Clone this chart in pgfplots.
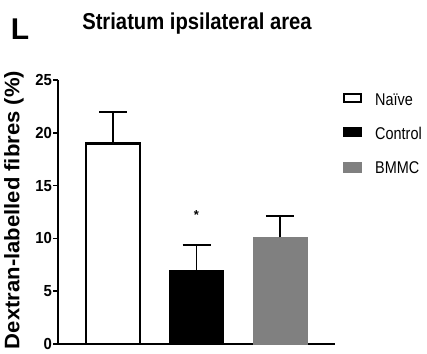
\documentclass[border=0pt]{standalone}
\usepackage{pgfplots}
\pgfplotsset{compat=1.18}
\usepackage{fontspec}
\setmainfont{Liberation Sans}
\newfontfamily\nfont[FakeStretch=0.88]{Liberation Sans}
\newfontfamily\lfont[FakeStretch=0.85]{Liberation Sans}
\newfontfamily\tfont[FakeStretch=0.93]{Liberation Sans}
\newfontfamily\yfont[FakeStretch=1.05]{Liberation Sans}
\begin{document}
\begin{tikzpicture}
\path (0pt,0pt) rectangle (427pt,353pt);
\begin{axis}[
  at={(58pt,9pt)}, anchor=south west,
  scale only axis, width=277pt, height=264pt,
  xmin=-0.66, xmax=2.66, ymin=0, ymax=25,
  axis lines*=left,
  axis line style={line width=1.8pt},
  every tick/.style={line width=1.6pt, black},
  ytick={0,5,10,15,20,25},
  tick align=outside, major tick length=5pt,
  xtick=\empty,
  /pgf/number format/assume math mode=true,
  yticklabel style={font=\tfont\bfseries\fontsize{16}{16}\selectfont, inner sep=1pt},
  clip=false,
]
\addplot[ybar, bar width=54pt, fill=white, draw=black, line width=2.4pt,
  error bars/.cd, y dir=plus, y explicit, error bar style={line width=1.8pt}, error mark options={rotate=90, mark size=14pt, line width=1.8pt}]
  coordinates {(0,19.0) +- (0,3.0)};
\addplot[ybar, bar width=54pt, fill=black, draw=black, line width=1pt,
  error bars/.cd, y dir=plus, y explicit, error bar style={line width=1.8pt}, error mark options={rotate=90, mark size=14pt, line width=1.8pt}]
  coordinates {(1,7.0) +- (0,2.4)};
\addplot[ybar, bar width=54pt, fill=gray, draw=gray, line width=0.5pt,
  error bars/.cd, y dir=plus, y explicit, error bar style={line width=1.8pt, black}, error mark options={rotate=90, mark size=14pt, line width=1.8pt, black}]
  coordinates {(2,10.1) +- (0,2.0)};
\node[font=\fontsize{13}{13}\selectfont\bfseries] at (axis cs:1,12.2) {*};
\end{axis}
\node[rotate=90, font=\yfont\bfseries\fontsize{21}{21}\selectfont] at (14pt,143pt) {Dextran-labelled fibres (\%)};
\node[font=\fontsize{30}{30}\selectfont\bfseries, anchor=center] at (20pt,324pt) {L};
\node[font=\nfont\bfseries\fontsize{23}{23}\selectfont, anchor=center] at (197pt,329pt) {Striatum ipsilateral area};
% legend
\draw[line width=2.4pt, fill=white] (344pt,251pt) rectangle (361pt,259pt);
\node[anchor=west, font=\lfont\fontsize{17}{17}\selectfont, inner sep=0pt] at (375pt,253pt) {Naïve};
\fill[black] (343pt,216pt) rectangle (362pt,226pt);
\node[anchor=west, font=\lfont\fontsize{17}{17}\selectfont, inner sep=0pt] at (375pt,220pt) {Control};
\fill[gray] (343pt,180pt) rectangle (362pt,191pt);
\node[anchor=west, font=\lfont\fontsize{17}{17}\selectfont, inner sep=0pt] at (375pt,185pt) {BMMC};
\end{tikzpicture}
\end{document}
